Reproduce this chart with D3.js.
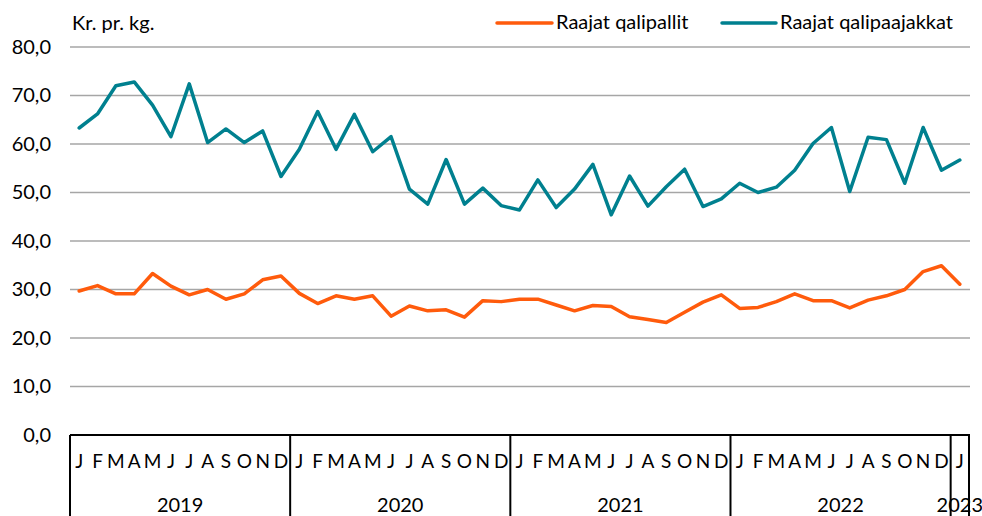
<!DOCTYPE html>
<html><head><meta charset="utf-8">
<script src="https://cdn.jsdelivr.net/npm/d3@7"></script>
<style>body{margin:0;background:#fff}svg{display:block;font-family:Lato,"Open Sans",sans-serif}</style>
</head><body>
<svg id="c" width="982" height="516"></svg>
<script>
const years = ["2019","2020","2021","2022","2023"];
const monthLetters = ["J","F","M","A","M","J","J","A","S","O","N","D"];
const yTicks = [0,10,20,30,40,50,60,70,80];
const seriesNames = ["Raajat qalipallit","Raajat qalipaajakkat"];
const qalipallit = [29.7,30.8,29.1,29.1,33.3,30.7,28.9,30.0,28.0,29.1,32.0,32.8,
  29.2,27.1,28.7,28.0,28.7,24.5,26.6,25.6,25.8,24.3,27.7,27.5,
  28.0,28.0,26.8,25.6,26.7,26.5,24.4,23.8,23.2,25.3,27.4,28.9,
  26.1,26.3,27.5,29.1,27.7,27.7,26.2,27.8,28.7,30.0,33.7,34.9,
  31.1];
const qalipaajakkat = [63.3,66.2,72.0,72.8,68.0,61.5,72.4,60.3,63.1,60.3,62.7,53.3,
  58.9,66.7,58.9,66.1,58.4,61.5,50.7,47.6,56.8,47.6,50.9,47.3,
  46.4,52.6,46.9,50.7,55.8,45.4,53.4,47.2,51.2,54.8,47.1,48.7,
  51.9,50.0,51.1,54.6,60.1,63.4,50.2,61.4,60.9,51.9,63.4,54.6,
  56.7];
const colors = ["#ff5b0c","#00808f"];

const svg = d3.select("#c");
const mLeft = 70, mRight = 969, mTop = 47, mBottom = 435;
const fs = 20;
const n = qalipallit.length;
const idx = d3.range(n);
const x = d3.scaleBand().domain(idx).range([mLeft, mRight]).padding(0);
const y = d3.scaleLinear().domain([0,80]).range([mBottom, mTop]);

// gridlines
svg.append("g").selectAll("line").data(yTicks.filter(t=>t>0)).join("line")
  .attr("x1", mLeft).attr("x2", mRight+1).attr("y1", d=>y(d)).attr("y2", d=>y(d))
  .attr("stroke","#a6a6a6").attr("stroke-width",1.5);

// y axis labels
const yAxis = d3.axisLeft(y).tickValues(yTicks).tickSize(0).tickPadding(0)
  .tickFormat(d=>d3.format(".1f")(d).replace(".",","));
const yg = svg.append("g").attr("transform",`translate(${mLeft-19},0)`).call(yAxis);
yg.select(".domain").remove();
yg.selectAll("text").attr("font-size",fs).attr("fill","#000").attr("font-family","Lato,'Open Sans',sans-serif");

// x axis baseline
svg.append("line").attr("x1",mLeft).attr("x2",mRight+1).attr("y1",mBottom).attr("y2",mBottom)
  .attr("stroke","#000").attr("stroke-width",2);

// year separators
const yearStarts = years.map((yr,i)=>i*12);
const seps = yearStarts.concat([n]);
svg.append("g").selectAll("line").data(seps).join("line")
  .attr("x1", d=> d<n ? x(d) : mRight).attr("x2", d=> d<n ? x(d) : mRight)
  .attr("y1", mBottom).attr("y2", 516)
  .attr("stroke","#000").attr("stroke-width",2);

// month letters
svg.append("g").selectAll("text").data(idx).join("text")
  .attr("x", d=>x(d)+x.bandwidth()/2).attr("y", 468)
  .attr("text-anchor","middle").attr("font-size",fs-1).attr("fill","#000")
  .text(d=>monthLetters[d%12]);

// year labels
svg.append("g").selectAll("text").data(years).join("text")
  .attr("x",(d,i)=>{const s=i*12, e=Math.min(n,s+12); return (x(s)+x(e-1)+x.bandwidth())/2;})
  .attr("y", 512).attr("text-anchor","middle").attr("font-size",fs).attr("fill","#000")
  .text(d=>d);

// lines
const line = d3.line().x((d,i)=>x(i)+x.bandwidth()/2).y(d=>y(d));
[qalipallit, qalipaajakkat].forEach((s,k)=>{
  svg.append("path").datum(s).attr("d",line).attr("fill","none")
    .attr("stroke",colors[k]).attr("stroke-width",3.5).attr("stroke-linejoin","round").attr("stroke-linecap","round");
});

// unit label
svg.append("text").attr("x",72).attr("y",30).attr("font-size",fs).attr("fill","#000").text("Kr. pr. kg.");

// legend
const leg = [{x1:497,x2:552},{x1:722,x2:776}];
leg.forEach((l,k)=>{
  svg.append("line").attr("x1",l.x1).attr("x2",l.x2).attr("y1",23).attr("y2",23)
    .attr("stroke",colors[k]).attr("stroke-width",3.5).attr("stroke-linecap","round");
  svg.append("text").attr("x",l.x2+4).attr("y",29).attr("font-size",fs).attr("fill","#000").text(seriesNames[k]);
});
</script>
</body></html>
